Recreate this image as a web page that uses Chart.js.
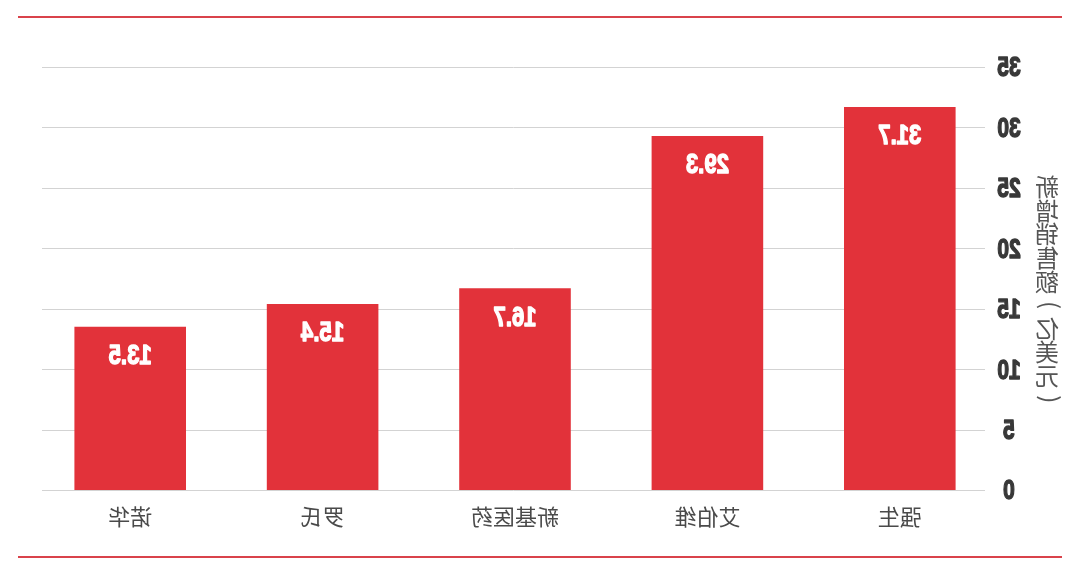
<!DOCTYPE html>
<html>
<head>
<meta charset="utf-8">
<script src="https://cdn.jsdelivr.net/npm/chart.js@4.4.1/dist/chart.umd.min.js"></script>
<style>
  html, body { margin: 0; padding: 0; background: #ffffff; }
  #wrap { width: 1080px; height: 575px; transform: scaleX(-1); }
  canvas { display: block; }
</style>
</head>
<body>
<div id="wrap"><canvas id="c" width="1080" height="575"></canvas></div>
<script>
// Data (reference image is horizontally mirrored; drawn unmirrored, then flipped)
const categories = ['强生', '艾伯维', '新基医药', '罗氏', '诺华'];
const salesGrowth = [31.7, 29.3, 16.7, 15.4, 13.5];
const yMin = 0;
const yMax = 35;
const yStep = 5;
const axisTitle = '新增销售额（亿美元）';

const BOLDF = "'Liberation Sans', Arial, sans-serif";
const CJK = "'Noto Sans CJK SC', 'Noto Sans', sans-serif";

// draw horizontally condensed, extra-heavy text
function narrowText(ctx, text, x, y, sx, weight) {
  ctx.save();
  ctx.translate(x, y);
  ctx.scale(sx, 1);
  ctx.lineJoin = 'round';
  ctx.lineWidth = weight;
  ctx.strokeStyle = ctx.fillStyle;
  ctx.strokeText(text, 0, 0);
  ctx.fillText(text, 0, 0);
  ctx.restore();
}

const framePlugin = {
  id: 'frame',
  beforeDraw(chart) {
    const ctx = chart.ctx;
    ctx.save();
    ctx.fillStyle = '#ffffff';
    ctx.fillRect(0, 0, chart.width, chart.height);
    ctx.strokeStyle = '#d9434b';
    ctx.lineWidth = 2;
    [17, 557].forEach(y => {
      ctx.beginPath();
      ctx.moveTo(18, y);
      ctx.lineTo(1062, y);
      ctx.stroke();
    });
    ctx.restore();
  }
};

const gridPlugin = {
  id: 'customGrid',
  beforeDatasetsDraw(chart) {
    const ctx = chart.ctx;
    const ys = chart.scales.y;
    ctx.save();
    ctx.strokeStyle = '#d3d3d3';
    ctx.lineWidth = 1;
    ys.ticks.forEach(t => {
      const y = Math.round(ys.getPixelForValue(t.value)) + 0.5;
      ctx.beginPath();
      ctx.moveTo(95, y);
      ctx.lineTo(1038, y);
      ctx.stroke();
    });
    ctx.restore();
  },
  afterDraw(chart) {
    // y tick labels, condensed bold, centred in the axis box
    const ctx = chart.ctx;
    const ys = chart.scales.y;
    ctx.save();
    ctx.fillStyle = '#383838';
    ctx.font = 'bold 27px ' + BOLDF;
    ctx.textAlign = 'center';
    ctx.textBaseline = 'middle';
    ys.ticks.forEach(t => {
      narrowText(ctx, String(t.label), 71, ys.getPixelForValue(t.value) + 2, 0.78, 1.4);
    });
    ctx.restore();
  }
};

const labelPlugin = {
  id: 'valueLabels',
  afterDatasetsDraw(chart) {
    const ctx = chart.ctx;
    const meta = chart.getDatasetMeta(0);
    ctx.save();
    ctx.fillStyle = '#ffffff';
    ctx.font = 'bold 27px ' + BOLDF;
    ctx.textAlign = 'center';
    ctx.textBaseline = 'middle';
    meta.data.forEach((bar, i) => {
      narrowText(ctx, salesGrowth[i].toFixed(1), bar.x, bar.y + 30, 0.82, 1.4);
    });
    ctx.restore();
  }
};

const titlePlugin = {
  id: 'axisTitleVertical',
  afterDraw(chart) {
    const ctx = chart.ctx;
    ctx.save();
    ctx.fillStyle = '#555555';
    ctx.font = '24px ' + CJK;
    ctx.textAlign = 'center';
    ctx.textBaseline = 'middle';
    Array.from(axisTitle).forEach((ch, i) => {
      const x = 33, y = 187 + i * 23.6;
      if (ch === '（' || ch === '）') {
        ctx.save();
        ctx.translate(x, y);
        ctx.rotate(Math.PI / 2);
        ctx.fillText(ch === '（' ? '(' : ')', 0, 0);
        ctx.restore();
      } else {
        ctx.fillText(ch, x, y);
      }
    });
    ctx.restore();
  }
};

new Chart(document.getElementById('c'), {
  type: 'bar',
  data: {
    labels: categories,
    datasets: [{
      data: salesGrowth,
      backgroundColor: '#e2323a',
      borderWidth: 0,
      barPercentage: 0.58,
      categoryPercentage: 1.0
    }]
  },
  options: {
    responsive: false,
    animation: false,
    layout: { padding: { left: 0, right: 34, top: 67, bottom: 0 } },
    plugins: {
      legend: { display: false },
      tooltip: { enabled: false },
      title: { display: false }
    },
    scales: {
      x: {
        grid: { display: false, drawTicks: false },
        border: { display: false },
        ticks: {
          font: { family: CJK, size: 22 },
          color: '#4a4a4a',
          padding: 13,
          maxRotation: 0
        },
        afterFit(scale) { scale.height = 85; }
      },
      y: {
        min: yMin,
        max: yMax,
        grid: { display: false, drawTicks: false },
        border: { display: false },
        ticks: {
          stepSize: yStep,
          display: false
        },
        afterFit(scale) { scale.width = 84; }
      }
    }
  },
  plugins: [framePlugin, gridPlugin, labelPlugin, titlePlugin]
});
</script>
</body>
</html>
